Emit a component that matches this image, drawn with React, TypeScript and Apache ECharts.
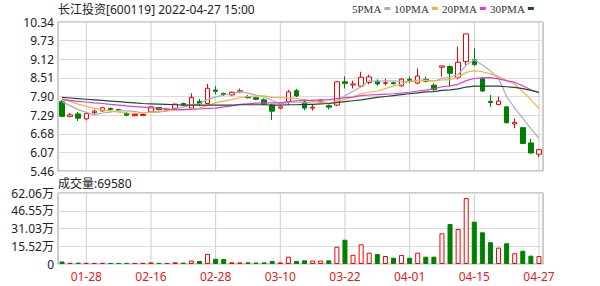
import React, { useEffect, useRef } from "react";
import * as echarts from "echarts";

const dates = [
  "01-25", "01-26", "01-27", "01-28",
  "02-07", "02-08", "02-09", "02-10", "02-11",
  "02-14", "02-15", "02-16", "02-17", "02-18",
  "02-21", "02-22", "02-23", "02-24", "02-25", "02-28",
  "03-01", "03-02", "03-03", "03-04",
  "03-07", "03-08", "03-09", "03-10", "03-11",
  "03-14", "03-15", "03-16", "03-17", "03-18",
  "03-21", "03-22", "03-23", "03-24", "03-25",
  "03-28", "03-29", "03-30", "03-31", "04-01",
  "04-06", "04-07", "04-08",
  "04-11", "04-12", "04-13", "04-14", "04-15",
  "04-18", "04-19", "04-20", "04-21", "04-22",
  "04-25", "04-26", "04-27",
];

const opens = [
  7.73, 7.25, 7.33, 7.17, 7.37, 7.43, 7.51, 7.47, 7.35, 7.27,
  7.28, 7.40, 7.54, 7.44, 7.51, 7.67, 7.52, 7.74, 7.67, 8.11,
  8.00, 7.95, 8.05, 7.90, 7.86, 7.79, 7.62, 7.52, 7.72, 8.09,
  7.72, 7.52, 7.74, 7.60, 7.62, 8.38, 8.28, 8.24, 8.36, 8.40,
  8.33, 8.35, 8.25, 8.46, 8.34, 8.46, 8.27, 8.86, 8.88, 8.53,
  9.04, 9.10, 8.49, 7.74, 7.64, 7.56, 7.00, 6.88, 6.38, 6.01,
];
const closes = [
  7.25, 7.30, 7.19, 7.34, 7.42, 7.53, 7.47, 7.45, 7.29, 7.31,
  7.31, 7.56, 7.47, 7.49, 7.65, 7.63, 7.87, 7.66, 8.17, 8.07,
  7.97, 8.04, 8.09, 7.86, 7.81, 7.65, 7.42, 7.56, 8.05, 7.92,
  7.52, 7.55, 7.78, 7.55, 8.38, 8.33, 8.31, 8.53, 8.54, 8.31,
  8.35, 8.32, 8.47, 8.43, 8.57, 8.40, 8.13, 8.90, 8.66, 9.02,
  9.95, 8.95, 8.08, 7.70, 7.75, 7.04, 7.05, 6.36, 6.05, 6.16,
];
const lows = [
  7.22, 7.22, 7.10, 7.12, 7.33, 7.40, 7.44, 7.42, 7.25, 7.25,
  7.26, 7.38, 7.45, 7.43, 7.49, 7.60, 7.50, 7.58, 7.65, 7.98,
  7.92, 7.93, 8.02, 7.84, 7.78, 7.62, 7.13, 7.48, 7.62, 7.88,
  7.45, 7.44, 7.70, 7.48, 7.58, 8.16, 8.16, 8.20, 8.30, 8.26,
  8.27, 8.29, 8.22, 8.34, 8.30, 8.36, 8.08, 8.55, 8.22, 8.46,
  8.93, 8.90, 8.05, 7.56, 7.62, 7.02, 6.86, 6.34, 6.02, 5.92,
];
const highs = [
  7.78, 7.36, 7.40, 7.36, 7.47, 7.56, 7.54, 7.50, 7.38, 7.35,
  7.34, 7.58, 7.56, 7.51, 7.67, 7.70, 8.00, 7.82, 8.31, 8.24,
  8.03, 8.06, 8.16, 7.95, 7.88, 7.84, 7.66, 7.58, 8.12, 8.15,
  7.78, 7.62, 7.82, 7.64, 8.40, 8.56, 8.42, 8.71, 8.62, 8.46,
  8.48, 8.38, 8.50, 8.56, 8.82, 8.55, 8.33, 8.91, 8.92, 9.53,
  9.96, 9.48, 8.53, 7.95, 7.90, 7.58, 7.18, 6.90, 6.52, 6.18,
];
const volumes = [
  22000, 10000, 12000, 10000, 9000, 10000, 9000, 9000, 10000, 9000,
  10000, 14000, 10000, 9000, 15000, 12000, 30000, 26000, 88000, 46000,
  44000, 15000, 14000, 15000, 13000, 14000, 26000, 14000, 64000, 26000,
  32000, 30000, 30000, 32000, 151000, 212000, 80000, 172000, 99000, 88000,
  70000, 55000, 79000, 55000, 99000, 64000, 64000, 268000, 350000, 306000,
  576000, 370000, 277000, 190000, 143000, 181000, 94000, 116000, 73000, 69580,
];

const ma5 = [
  7.73, 7.60, 7.47, 7.38, 7.30, 7.36, 7.39, 7.44, 7.43, 7.41,
  7.36, 7.38, 7.39, 7.43, 7.49, 7.56, 7.62, 7.66, 7.80, 7.88,
  7.95, 7.98, 8.07, 8.01, 7.95, 7.89, 7.77, 7.66, 7.70, 7.72,
  7.69, 7.72, 7.76, 7.66, 7.76, 7.92, 8.07, 8.22, 8.42, 8.40,
  8.41, 8.41, 8.40, 8.38, 8.43, 8.44, 8.40, 8.49, 8.53, 8.62,
  8.93, 9.10, 8.93, 8.74, 8.49, 7.90, 7.52, 7.18, 6.85, 6.53,
];
const ma10 = [
  7.82, 7.74, 7.65, 7.58, 7.51, 7.46, 7.42, 7.39, 7.36, 7.35,
  7.36, 7.39, 7.41, 7.43, 7.45, 7.46, 7.50, 7.52, 7.61, 7.69,
  7.75, 7.80, 7.86, 7.90, 7.92, 7.92, 7.87, 7.86, 7.85, 7.84,
  7.79, 7.74, 7.71, 7.68, 7.74, 7.81, 7.89, 7.99, 8.04, 8.08,
  8.16, 8.24, 8.31, 8.40, 8.42, 8.42, 8.41, 8.44, 8.45, 8.53,
  8.69, 8.75, 8.71, 8.64, 8.55, 8.42, 8.31, 8.06, 7.80, 7.51,
];
const ma20 = [
  7.80, 7.77, 7.74, 7.72, 7.69, 7.67, 7.64, 7.62, 7.59, 7.57,
  7.55, 7.53, 7.51, 7.49, 7.48, 7.47, 7.48, 7.49, 7.51, 7.52,
  7.56, 7.59, 7.64, 7.66, 7.68, 7.69, 7.69, 7.69, 7.73, 7.76,
  7.77, 7.77, 7.79, 7.79, 7.83, 7.86, 7.88, 7.93, 7.95, 7.96,
  7.98, 7.99, 8.01, 8.04, 8.08, 8.11, 8.15, 8.22, 8.25, 8.30,
  8.42, 8.49, 8.51, 8.52, 8.48, 8.42, 8.36, 8.25, 8.12, 8.02,
];
const ma30 = [
  7.87, 7.85, 7.83, 7.81, 7.79, 7.77, 7.75, 7.73, 7.71, 7.69,
  7.67, 7.66, 7.65, 7.64, 7.63, 7.62, 7.62, 7.62, 7.62, 7.62,
  7.62, 7.62, 7.63, 7.63, 7.63, 7.63, 7.62, 7.62, 7.63, 7.63,
  7.64, 7.64, 7.66, 7.67, 7.70, 7.73, 7.76, 7.79, 7.83, 7.87,
  7.90, 7.93, 7.96, 7.99, 8.02, 8.05, 8.06, 8.10, 8.12, 8.15,
  8.21, 8.24, 8.24, 8.24, 8.24, 8.22, 8.20, 8.16, 8.10, 8.04,
];

const priceTicks = ["5.46", "6.07", "6.68", "7.29", "7.90", "8.51", "9.12", "9.73", "10.34"];
const volTicks = ["0", "15.52万", "31.03万", "46.55万", "62.06万"];
const labelIdx = [3, 11, 19, 27, 35, 43, 51, 59];
const maNames = ["5PMA", "10PMA", "20PMA", "30PMA"];
const maColors = ["#a7adc6", "#f5b041", "#e23ad6", "#1f4a2c"];
const maData = [ma5, ma10, ma20, ma30];
const legendLefts = [352, 394, 442, 490];

const titleText = "长江投资[600119] 2022-04-27 15:00";
const volTitle = "成交量:69580";

const FONT = "'Noto Sans', 'Noto Sans CJK SC', sans-serif";
const UP = "#f00000";
const DOWN = "#008000";

const labelEvery = (i: number) => (i - 3) % 8 === 0;

// thin full-height bars at the labelled dates serve as vertical guide lines
const guideSeries = (xIdx: number, yIdx: number, top: number) => ({
  type: "bar",
  name: "guide" + xIdx,
  xAxisIndex: xIdx,
  yAxisIndex: yIdx,
  silent: true,
  barWidth: 1,
  z: 1,
  itemStyle: { color: "#cdcdcd" },
  data: dates.map((_, i) => (labelIdx.indexOf(i) >= 0 ? top : "-")),
});

const hiddenCat = (gridIndex: number) => ({
  type: "category",
  gridIndex,
  data: dates,
  show: false,
  position: "bottom",
  axisLine: { show: false },
  axisTick: { show: false },
  axisLabel: { show: false },
  splitLine: { show: false },
});

export default function App() {
  const ref = useRef<HTMLDivElement>(null);
  useEffect(() => {
    if (!ref.current) return;
    const chart = echarts.init(ref.current, null, { renderer: "svg" });
    const option: any = {
      animation: false,
      backgroundColor: "#ffffff",
      textStyle: { fontFamily: FONT },
      title: [
        {
          text: titleText,
          left: 58,
          top: 3,
          padding: 0,
          textStyle: { fontSize: 12, fontWeight: "normal", color: "#222", fontFamily: FONT },
        },
        {
          text: volTitle,
          left: 58,
          top: 177,
          padding: 0,
          textStyle: { fontSize: 12, fontWeight: "normal", color: "#222", fontFamily: FONT },
        },
      ],
      legend: maNames.map((n, k) => ({
        data: [n],
        left: legendLefts[k],
        top: 3,
        padding: 0,
        align: "right",
        icon: "rect",
        itemWidth: 6,
        itemHeight: 3,
        selectedMode: false,
        textStyle: {
          fontSize: 11,
          color: "#333",
          padding: [0, -2, 0, 0],
          fontFamily: "'Liberation Serif', serif",
        },
      })),
      grid: [
        { left: 58, right: 57, top: 22, height: 149, show: true, borderColor: "#9a9a9a", borderWidth: 1 },
        { left: 58, right: 57, top: 193, height: 71, show: true, borderColor: "#9a9a9a", borderWidth: 1 },
      ],
      xAxis: [
        {
          type: "category",
          gridIndex: 0,
          data: dates,
          position: "bottom",
          axisLine: { show: false },
          axisTick: { show: false },
          axisLabel: { show: false },
          splitLine: { show: false },
        },
        {
          type: "category",
          gridIndex: 1,
          data: dates,
          position: "bottom",
          axisLine: { show: false },
          axisTick: { show: false },
          axisLabel: {
            show: true,
            interval: (i: number) => labelEvery(i),
            color: "#e02020",
            fontSize: 12,
            margin: 6,
            fontFamily: FONT,
          },
          splitLine: { show: false },
        },
        hiddenCat(0),
        hiddenCat(1),
      ],
      yAxis: [
        { type: "value", gridIndex: 0, min: 5.46, max: 10.34, show: false, position: "left" },
        {
          type: "value",
          gridIndex: 0,
          min: 0,
          max: 8,
          interval: 1,
          position: "left",
          axisLine: { show: false },
          axisTick: { show: false },
          axisLabel: {
            formatter: (v: number) => priceTicks[Math.round(v)],
            color: "#222",
            fontSize: 12,
            margin: 4,
            fontFamily: FONT,
          },
          splitLine: { show: true, lineStyle: { color: "#dcdcdc" } },
        },
        {
          type: "value",
          gridIndex: 1,
          min: 0,
          max: 620600,
          interval: 155150,
          position: "left",
          axisLine: { show: false },
          axisTick: { show: false },
          axisLabel: {
            formatter: (v: number) => volTicks[Math.round(v / 155150)],
            color: "#222",
            fontSize: 12,
            margin: 4,
            fontFamily: FONT,
          },
          splitLine: { show: true, lineStyle: { color: "#dcdcdc" } },
        },
      ],
      series: [
        guideSeries(2, 1, 8),
        guideSeries(3, 2, 620600),
        {
          type: "candlestick",
          name: "K",
          xAxisIndex: 0,
          yAxisIndex: 0,
          barWidth: 5,
          data: dates.map((_, i) => [opens[i], closes[i], lows[i], highs[i]]),
          itemStyle: {
            color: "#ffffff",
            color0: DOWN,
            borderColor: UP,
            borderColor0: DOWN,
            borderWidth: 1,
          },
          z: 3,
        },
        ...maNames.map((n, k) => ({
          type: "line",
          name: n,
          xAxisIndex: 0,
          yAxisIndex: 0,
          data: maData[k],
          symbol: "none",
          color: maColors[k],
          lineStyle: { color: maColors[k], width: 1.2 },
          z: 4,
        })),
        {
          type: "bar",
          name: "VOL",
          xAxisIndex: 1,
          yAxisIndex: 2,
          barWidth: 5,
          z: 3,
          data: volumes.map((v, i) => {
            const up = closes[i] >= opens[i];
            return {
              value: v,
              itemStyle: up
                ? { color: "#ffffff", borderColor: UP, borderWidth: 1 }
                : { color: DOWN, borderColor: DOWN, borderWidth: 1 },
            };
          }),
        },
      ],
    };
    chart.setOption(option);
    return () => chart.dispose();
  }, []);
  return (
    <div
      ref={ref}
      style={{ position: "fixed", left: 0, top: 0, width: 600, height: 286, background: "#fff" }}
    />
  );
}
